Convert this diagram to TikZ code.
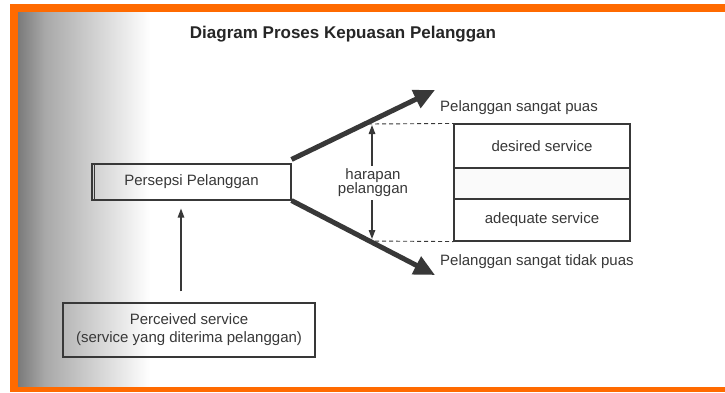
\documentclass[tikz,border=0pt]{standalone}
\usepackage{fontspec}
\setmainfont{Liberation Sans}
\usetikzlibrary{arrows.meta}
\definecolor{frameorange}{HTML}{FF6A00}
\definecolor{ink}{HTML}{383838}
\begin{document}
\begin{tikzpicture}[x=1pt,y=-1pt,
  txt/.style={font=\fontsize{15}{18}\selectfont, text=ink, inner sep=3pt},
  box/.style={draw=ink, line width=1.1pt, txt},
  thickarr/.style={draw=ink, line width=5pt, -{Triangle[length=21pt,width=19pt]}},
  thinarr/.style={draw=ink, line width=1.3pt, -{Triangle[length=9pt,width=6.5pt]}},
  dashline/.style={draw=ink, line width=0.9pt, dash pattern=on 4pt off 3pt}]
\useasboundingbox (0,0) rectangle (725,392);
\fill[white] (0,0) rectangle (725,392);
% scan shadow on the left
\shade[left color=black!52, right color=black!34] (18,12) rectangle (45,387);
\shade[left color=black!34, right color=white] (45,12) rectangle (150,387);
% orange frame
\fill[frameorange] (10,4) rectangle (725,12);
\fill[frameorange] (10,4) rectangle (18,392);
\fill[frameorange] (10,387) rectangle (725,392);
% title
\node[font=\bfseries\fontsize{17}{20}\selectfont, text=black!85] (title) at (343,34) {Diagram Proses Kepuasan Pelanggan};
% left boxes
\node[box, minimum width=199, minimum height=36] (persepsi) at (191.5,182) {Persepsi Pelanggan};
\draw[ink, line width=0.6pt] ([xshift=3pt]persepsi.north west) -- ([xshift=3pt]persepsi.south west);
\node[box, minimum width=252, minimum height=54, align=center] (perceived) at (189,330) {Perceived service\\(service yang diterima pelanggan)};
\draw[thinarr, shorten <=11pt, shorten >=8pt] ([xshift=-8pt]perceived.north) -- ([xshift=-8pt]perceived.north |- persepsi.south);
% right stacked box
\node[box, minimum width=176, minimum height=44] (desired) at (542,146) {desired service};
\node[draw=ink, line width=1.1pt, fill=black!2, minimum width=176, minimum height=31] (mid) at (542,183.5) {};
\node[box, minimum width=176, minimum height=42] (adequate) at (542,220) {adequate service};
% thick arrows
\coordinate (upT) at (435,90);
\coordinate (loT) at (435,275);
\draw[thickarr] ([yshift=4pt]persepsi.north east) -- (upT);
\draw[thickarr] (persepsi.south east) -- (loT);
\node[txt, anchor=west] (puas) at (437,108) {Pelanggan sangat puas};
\node[txt, anchor=west] (tidak) at (437,262) {Pelanggan sangat tidak puas};
% dashed guides
\coordinate (dTop) at (368,124);
\coordinate (dBot) at (368,241);
\draw[dashline] (dTop) -- (desired.north west);
\draw[dashline] (dBot) -- (adequate.south west);
% harapan pelanggan
\node[txt, font=\fontsize{15}{14}\selectfont, align=center] (harapan) at (373,183) {harapan\\pelanggan};
\coordinate (hTop) at (372,125);
\coordinate (hBot) at (372,239);
\draw[thinarr] (harapan.north -| hTop) -- (hTop);
\draw[thinarr] (harapan.south -| hBot) -- (hBot);
\end{tikzpicture}
\end{document}
